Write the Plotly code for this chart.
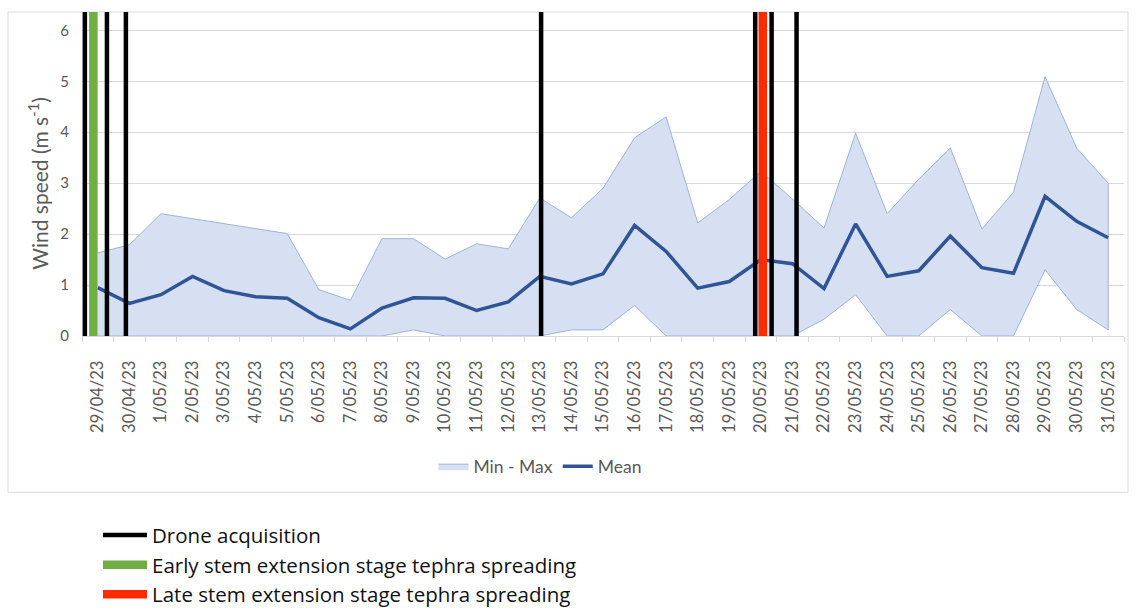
import plotly.graph_objects as go

# Daily wind speed, 29 April - 31 May 2023
dates = ["29/04/23", "30/04/23", "1/05/23", "2/05/23", "3/05/23", "4/05/23", "5/05/23",
         "6/05/23", "7/05/23", "8/05/23", "9/05/23", "10/05/23", "11/05/23", "12/05/23",
         "13/05/23", "14/05/23", "15/05/23", "16/05/23", "17/05/23", "18/05/23", "19/05/23",
         "20/05/23", "21/05/23", "22/05/23", "23/05/23", "24/05/23", "25/05/23", "26/05/23",
         "27/05/23", "28/05/23", "29/05/23", "30/05/23", "31/05/23"]
wind_max = [1.63, 1.79, 2.40, 2.30, 2.20, 2.10, 2.01, 0.91, 0.70, 1.91, 1.91, 1.51, 1.81,
            1.71, 2.71, 2.32, 2.90, 3.89, 4.30, 2.22, 2.68, 3.23, 2.69, 2.12, 3.98, 2.40,
            3.08, 3.69, 2.10, 2.82, 5.09, 3.69, 3.00]
wind_mean = [0.95, 0.64, 0.81, 1.17, 0.89, 0.77, 0.74, 0.36, 0.14, 0.55, 0.75, 0.74, 0.50,
             0.67, 1.17, 1.02, 1.22, 2.17, 1.66, 0.94, 1.07, 1.50, 1.42, 0.93, 2.20, 1.17,
             1.28, 1.96, 1.34, 1.23, 2.74, 2.25, 1.93]
wind_min = [0.0, 0.0, 0.0, 0.0, 0.0, 0.0, 0.0, 0.0, 0.0, 0.0, 0.12, 0.0, 0.0, 0.0, 0.0,
            0.12, 0.12, 0.60, 0.0, 0.0, 0.0, 0.0, 0.0, 0.33, 0.81, 0.0, 0.0, 0.52, 0.0,
            0.0, 1.30, 0.52, 0.12]

# Event times, in days after 29/04/23 00:00 shown on the category axis
drone_days = [-0.41, 0.29, 0.89, 14.04, 20.82, 21.34, 22.13]
early_spread_days = [-0.14]
late_spread_days = [21.06]

Y_TOP = 6.36
W, H = 1136, 608
PL, PR, PT, PB = 82, 1124, 12, 336.5   # plot area in pixels


def px_x(px):
    return (px - PL) / (PR - PL)


def px_y(py):
    return (PB - py) / (PB - PT)


idx = list(range(len(dates)))

fig = go.Figure()

# Min-max envelope as a closed polygon
fig.add_trace(go.Scatter(
    x=idx + idx[::-1], y=wind_max + wind_min[::-1],
    mode="lines", fill="toself", fillcolor="#D6E0F2",
    line=dict(color="#9DB3DE", width=1),
    name="Min - Max", legend="legend", hoverinfo="skip"))

fig.add_trace(go.Scatter(
    x=idx, y=wind_mean, mode="lines",
    line=dict(color="#2F5597", width=3.5),
    name="Mean", legend="legend"))


def event_trace(days, color, width, name, rank):
    xs, ys = [], []
    for d in days:
        xs += [d, d, None]
        ys += [0, Y_TOP, None]
    return go.Scatter(x=xs, y=ys, mode="lines", line=dict(color=color, width=width),
                      name=name, legend="legend2", legendrank=rank, hoverinfo="skip")


fig.add_trace(event_trace(early_spread_days, "#70AD47", 8.5,
                          "Early stem extension stage tephra spreading", 2))
fig.add_trace(event_trace(late_spread_days, "#FF2A00", 8.5,
                          "Late stem extension stage tephra spreading", 3))
fig.add_trace(event_trace(drone_days, "#000000", 4.5, "Drone acquisition", 1))

font_family = "Lato, Open Sans, sans-serif"

fig.update_layout(
    width=W, height=H,
    margin=dict(l=PL, r=W - PR, t=PT, b=H - PB, autoexpand=False),
    paper_bgcolor="white", plot_bgcolor="white",
    font=dict(family=font_family, color="#595959", size=15),
    showlegend=True,
    legend=dict(orientation="h", x=px_x(540), y=px_y(467), xanchor="center",
                yanchor="middle", font=dict(size=17.5, color="#595959"),
                bgcolor="rgba(0,0,0,0)", traceorder="normal"),
    legend2=dict(orientation="v", x=px_x(98), y=px_y(516), xanchor="left",
                 yanchor="top", font=dict(size=20.5, color="#111111",
                                          family="Open Sans, sans-serif"),
                 bgcolor="rgba(0,0,0,0)", traceorder="normal", itemwidth=44,
                 tracegroupgap=0),
    xaxis=dict(range=[-0.5, len(dates) - 0.5], tickmode="array", tickvals=idx,
               ticktext=dates, tickangle=-90, ticks="", showgrid=False,
               showline=True, linecolor="#D9D9D9", linewidth=1, zeroline=False,
               tickfont=dict(size=16.5, color="#595959"), ticklabelstandoff=17,
               minor=dict(tickmode="array", tickvals=[i - 0.5 for i in idx] + [len(dates) - 0.5],
                          ticks="outside", ticklen=5, tickcolor="#D9D9D9", showgrid=False)),
    yaxis=dict(range=[0, Y_TOP], tickmode="array", tickvals=[0, 1, 2, 3, 4, 5, 6],
               showgrid=True, gridcolor="#D9D9D9", gridwidth=1, zeroline=False,
               showline=False, tickfont=dict(size=15, color="#595959"),
               ticklabelstandoff=12),
    annotations=[dict(text="Wind speed (m s<sup>-1</sup>)", textangle=-90,
                      xref="paper", yref="paper", x=px_x(38), y=px_y(184),
                      xanchor="center", yanchor="middle", showarrow=False,
                      font=dict(size=21, color="#595959"))],
    shapes=[dict(type="rect", xref="paper", yref="paper",
                 x0=px_x(8), x1=px_x(1128), y0=px_y(493), y1=px_y(12),
                 line=dict(color="#D9D9D9", width=1), fillcolor="rgba(0,0,0,0)",
                 layer="below")],
)

fig.write_html("out.html")
